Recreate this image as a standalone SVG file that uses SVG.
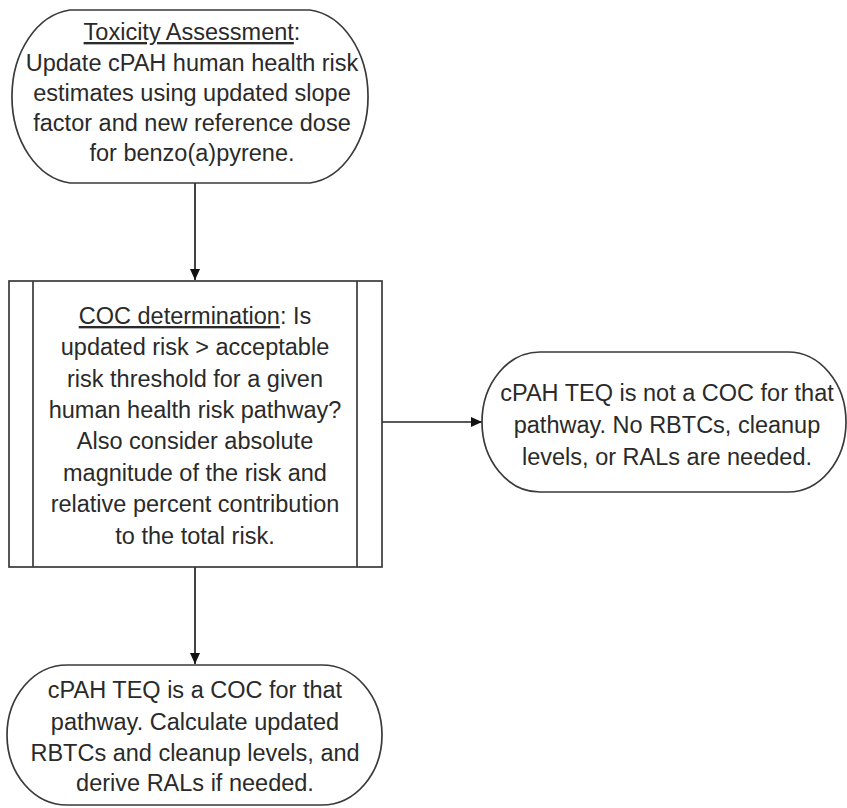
<svg xmlns="http://www.w3.org/2000/svg" width="847" height="808" viewBox="0 0 847 808">
<style>
.shape{fill:#fff;stroke:#3a3a3a;stroke-width:1.7}
.t{font-family:"Liberation Sans",Arial,sans-serif;font-size:23.5px;fill:#2a2a2a;text-anchor:middle}
.u{text-decoration:underline}
.c{stroke:#222;stroke-width:1.7;fill:none}
</style>
<defs>
<marker id="ah" markerWidth="12" markerHeight="12" refX="11" refY="6" orient="auto" markerUnits="userSpaceOnUse">
<path d="M0,1 L11,6 L0,11 Z" fill="#111"/>
</marker>
</defs>
<rect width="847" height="808" fill="#fff"/>
<g id="connectors">
<line class="c" x1="195" y1="183" x2="195" y2="280" marker-end="url(#ah)"/>
<line class="c" x1="382" y1="422" x2="482" y2="422" marker-end="url(#ah)"/>
<line class="c" x1="195" y1="567" x2="195" y2="664" marker-end="url(#ah)"/>
</g>
<g id="toxicity">
<path class="shape" d="M70,10 H310 A65 87 0 0 1 310,183 H70 A65 87 0 0 1 70,10 Z"/>
<text class="t" x="192" y="40"><tspan class="u">Toxicity Assessment</tspan>:</text>
<text class="t" x="192" y="71">Update cPAH human health risk</text>
<text class="t" x="192" y="101">estimates using updated slope</text>
<text class="t" x="192" y="131">factor and new reference dose</text>
<text class="t" x="192" y="161">for benzo(a)pyrene.</text>
</g>
<g id="coc">
<rect class="shape" x="9" y="281" width="373" height="286"/>
<line class="shape" x1="33" y1="281" x2="33" y2="567"/>
<line class="shape" x1="357" y1="281" x2="357" y2="567"/>
<text class="t" x="195" y="324"><tspan class="u">COC determination</tspan>:  Is</text>
<text class="t" x="195" y="355">updated risk &gt; acceptable</text>
<text class="t" x="195" y="387">risk threshold for a given</text>
<text class="t" x="195" y="418">human health risk pathway?</text>
<text class="t" x="195" y="449">Also consider absolute</text>
<text class="t" x="195" y="481">magnitude of the risk and</text>
<text class="t" x="195" y="512">relative percent contribution</text>
<text class="t" x="195" y="544">to the total risk.</text>
</g>
<g id="not-coc">
<path class="shape" d="M540,352 H788 A58 70 0 0 1 788,492 H540 A58 70 0 0 1 540,352 Z"/>
<text class="t" x="667" y="401">cPAH TEQ is not a COC for that</text>
<text class="t" x="667" y="433">pathway. No RBTCs, cleanup</text>
<text class="t" x="667" y="465">levels, or RALs are needed.</text>
</g>
<g id="is-coc">
<path class="shape" d="M67,665 H322 A60 70 0 0 1 322,805 H67 A60 70 0 0 1 67,665 Z"/>
<text class="t" x="195" y="698">cPAH TEQ is a COC for that</text>
<text class="t" x="195" y="730">pathway. Calculate updated</text>
<text class="t" x="195" y="761">RBTCs and cleanup levels, and</text>
<text class="t" x="195" y="791">derive RALs if needed.</text>
</g>
</svg>
